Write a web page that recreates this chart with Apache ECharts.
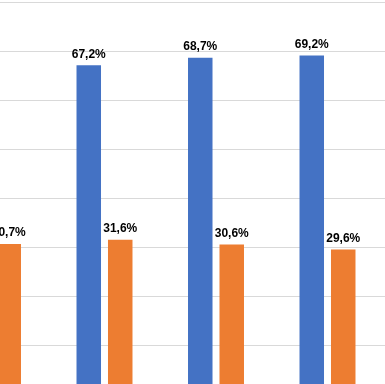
<!DOCTYPE html>
<html>
<head>
<meta charset="utf-8">
<script src="https://cdn.jsdelivr.net/npm/echarts@6/dist/echarts.min.js"></script>
<style>
html,body{margin:0;padding:0;background:#fff;width:385px;height:384px;overflow:hidden;position:relative;}
#c{position:absolute;left:-63px;top:0;width:558px;height:400px;}
</style>
</head>
<body>
<div id="c"></div>
<script>
var categories = ['A', 'B', 'C', 'D', 'E'];
var blueValues = [68.2, 67.2, 68.7, 69.2, null];
var orangeValues = [30.7, 31.6, 30.6, 29.6, null];
var yTicks = [0, 10, 20, 30, 40, 50, 60, 70, 80];

var chart = echarts.init(document.getElementById('c'), null, {renderer: 'canvas'});
function fmt(p) { return p.value.toFixed(1).replace('.', ',') + '%'; }
var labelStyle = {
  show: true, position: 'top', distance: 5,
  fontFamily: 'Liberation Sans, Arial, sans-serif', fontSize: 12, fontWeight: 'bold',
  color: '#000', formatter: fmt
};
chart.setOption({
  animation: false,
  grid: {left: 0.25, width: 557.5, top: 2.5, height: 392},
  xAxis: {
    type: 'category', data: categories, boundaryGap: true,
    axisLine: {show: false}, axisTick: {show: false}, axisLabel: {show: false}
  },
  yAxis: {
    type: 'value', min: yTicks[0], max: yTicks[yTicks.length - 1], interval: 10,
    axisLine: {show: false}, axisTick: {show: false}, axisLabel: {show: false},
    splitLine: {lineStyle: {color: '#d9d9d9', width: 1}}
  },
  series: [
    {type: 'bar', data: blueValues, barWidth: 24.5, barGap: '28.5%',
     itemStyle: {color: '#4472C4'}, label: labelStyle},
    {type: 'bar', data: orangeValues, barWidth: 24.5, barGap: '28.5%',
     itemStyle: {color: '#ED7D31'}, label: labelStyle}
  ]
});
</script>
</body>
</html>
